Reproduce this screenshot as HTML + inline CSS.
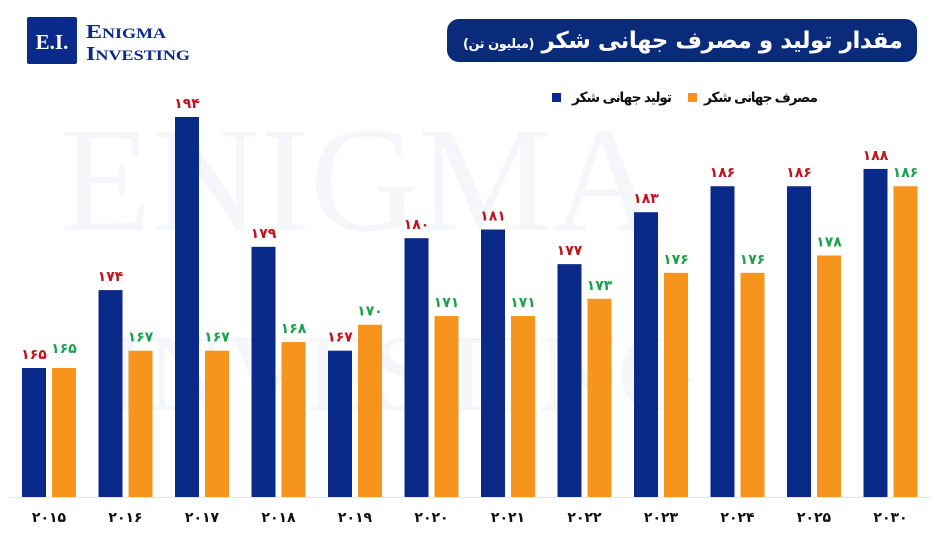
<!DOCTYPE html><html><head><meta charset="utf-8"><style>
body{margin:0;width:940px;height:529px;background:#fff;overflow:hidden;font-family:"DejaVu Sans",sans-serif}
</style></head><body>
<svg width="940" height="529" xmlns="http://www.w3.org/2000/svg">
<g fill="#f4f6fa" font-family="Liberation Serif,serif">
<text x="60" y="230" font-size="150">ENIGMA</text>
<text x="110" y="410" font-size="110">INVESTING</text>
</g>
<rect x="27" y="17" width="50" height="47" rx="2" fill="#0a2a8a"/>
<text x="52" y="49" font-family="Liberation Serif,serif" font-size="21" font-weight="bold" fill="#fff" text-anchor="middle">E.I.</text>
<text x="86" y="38" font-family="Liberation Serif,serif" font-size="20" font-weight="bold" fill="#0a2a8a" textLength="80" lengthAdjust="spacingAndGlyphs">E<tspan font-size="15">NIGMA</tspan></text>
<text x="86" y="60" font-family="Liberation Serif,serif" font-size="20" font-weight="bold" fill="#0a2a8a" textLength="104" lengthAdjust="spacingAndGlyphs">I<tspan font-size="15">NVESTING</tspan></text>
<rect x="447" y="19" width="470" height="43" rx="12" fill="#0a2a7a"/>
<text x="903" y="48" direction="rtl" font-size="23" font-weight="bold" fill="#fff" textLength="440">مقدار تولید و مصرف جهانی شکر  <tspan font-size="13">(میلیون تن)</tspan></text>
<rect x="552" y="93" width="9" height="9" fill="#0a2a8a"/>
<text x="672" y="102" direction="rtl" font-size="14" font-weight="bold" fill="#111" textLength="100">تولید جهانی شکر</text>
<rect x="688" y="93" width="9" height="9" fill="#f7941d"/>
<text x="818" y="102" direction="rtl" font-size="14" font-weight="bold" fill="#111" textLength="114">مصرف جهانی شکر</text>
<line x1="10" y1="497.5" x2="930" y2="497.5" stroke="#e3e6ee"/>
<g id="bars" font-size="14" font-weight="bold" text-anchor="middle"></g>
</svg>
<script>
var d=[["۲۰۱۵",165,165],["۲۰۱۶",174,167],["۲۰۱۷",194,167],["۲۰۱۸",179,168],["۲۰۱۹",167,170],["۲۰۲۰",180,171],["۲۰۲۱",181,171],["۲۰۲۲",177,173],["۲۰۲۳",183,176],["۲۰۲۴",186,176],["۲۰۲۵",186,178],["۲۰۳۰",188,186]];
var fa=function(n){return String(n).replace(/\d/g,function(c){return "۰۱۲۳۴۵۶۷۸۹"[c]})};
var y=function(v){return 368-(v-165)*8.655};
var s="";
d.forEach(function(r,i){var x=22+76.5*i;
s+='<rect x="'+x+'" y="'+y(r[1])+'" width="24" height="'+(497-y(r[1]))+'" fill="#0a2a8a"/>';
s+='<rect x="'+(x+30)+'" y="'+y(r[2])+'" width="24" height="'+(497-y(r[2]))+'" fill="#f7941d"/>';
s+='<text x="'+(x+12)+'" y="'+(y(r[1])-9)+'" fill="#c0141c">'+fa(r[1])+'</text>';
s+='<text x="'+(x+42)+'" y="'+(y(r[2])-9-(i==0?6:0))+'" fill="#1aa34a">'+fa(r[2])+'</text>';
s+='<text x="'+(x+27)+'" y="522" fill="#111">'+r[0]+'</text>';});
document.getElementById("bars").innerHTML=s;
</script>
</body></html>
